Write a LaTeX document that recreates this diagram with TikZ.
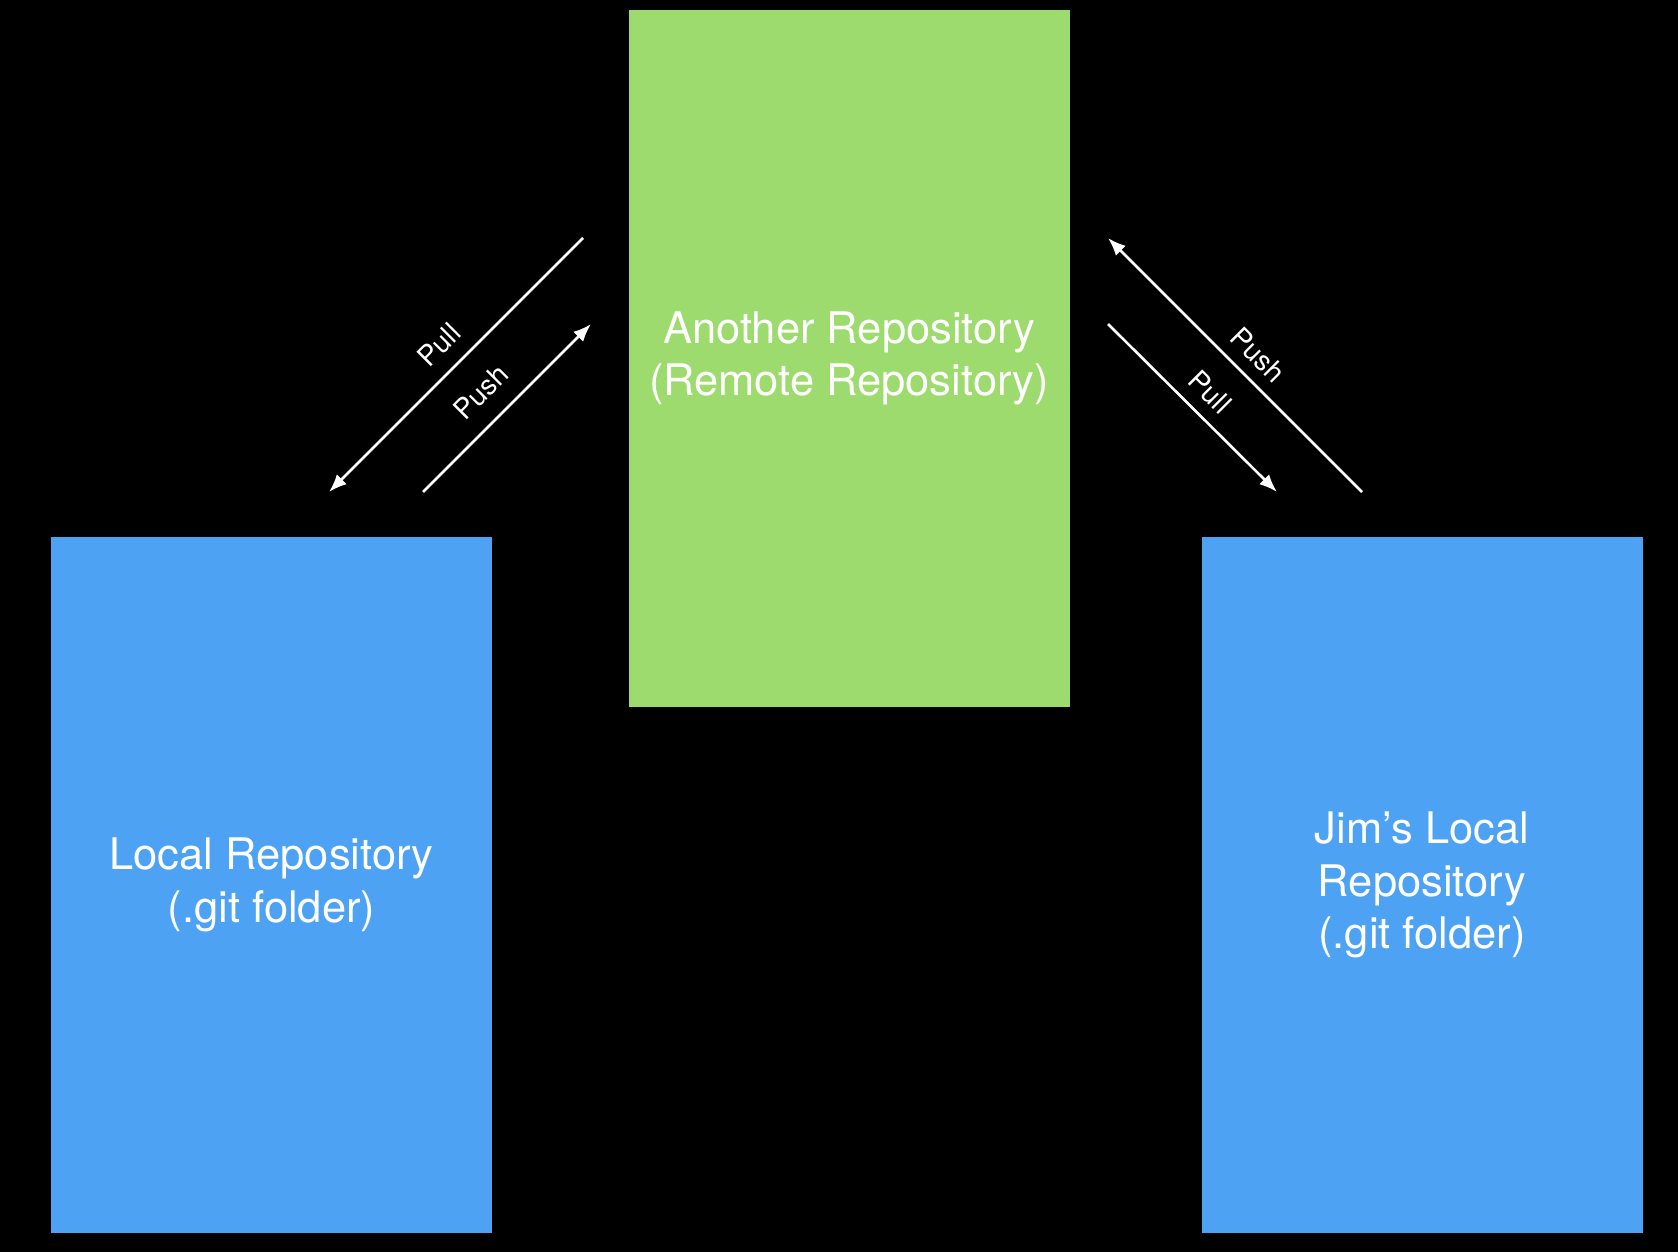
\documentclass[tikz,border=0pt]{standalone}
\usepackage{fontspec}
\setmainfont{TeX Gyre Heros}
\usetikzlibrary{arrows.meta}
\definecolor{gr}{HTML}{9DDB6F}
\definecolor{bl}{HTML}{4DA2F4}
\begin{document}
\begin{tikzpicture}[x=1pt,y=-1pt,
 box/.style={draw=none,minimum width=441pt,minimum height=696pt,align=center,text=white,font=\fontsize{43.5}{52.5}\selectfont},
 arr/.style={draw=white,line width=2.6pt,-{Latex[length=18pt,width=14pt]}},
 lab/.style={text=white,font=\fontsize{28}{32}\selectfont,inner sep=0pt}]
\fill[black] (0,0) rectangle (1678,1252);
\node[box,fill=gr] (remote) at (849,358.5) {Another Repository\\(Remote Repository)};
\node[box,fill=bl,minimum height=696pt] (local) at (271.5,885) {Local Repository\\(.git folder)};
\node[box,fill=bl] (jim) at (1422,885) {Jim’s Local\\Repository\\(.git folder)};
\coordinate (a1) at (583,238); \coordinate (a2) at (329,492);
\coordinate (b1) at (423,492); \coordinate (b2) at (591,324);
\coordinate (c1) at (1362,492); \coordinate (c2) at (1108,238);
\coordinate (d1) at (1108,324); \coordinate (d2) at (1277,492);
\draw[arr] (a1) -- (a2);
\draw[arr] (b1) -- (b2);
\draw[arr] (c1) -- (c2);
\draw[arr] (d1) -- (d2);
\node[lab,rotate=45] (pl) at (439,345) {Pull};
\node[lab,rotate=45] (pu) at (481,392) {Push};
\node[lab,rotate=-45] (pu2) at (1258,355) {Push};
\node[lab,rotate=-45] (pl2) at (1210,392) {Pull};
\end{tikzpicture}
\end{document}
